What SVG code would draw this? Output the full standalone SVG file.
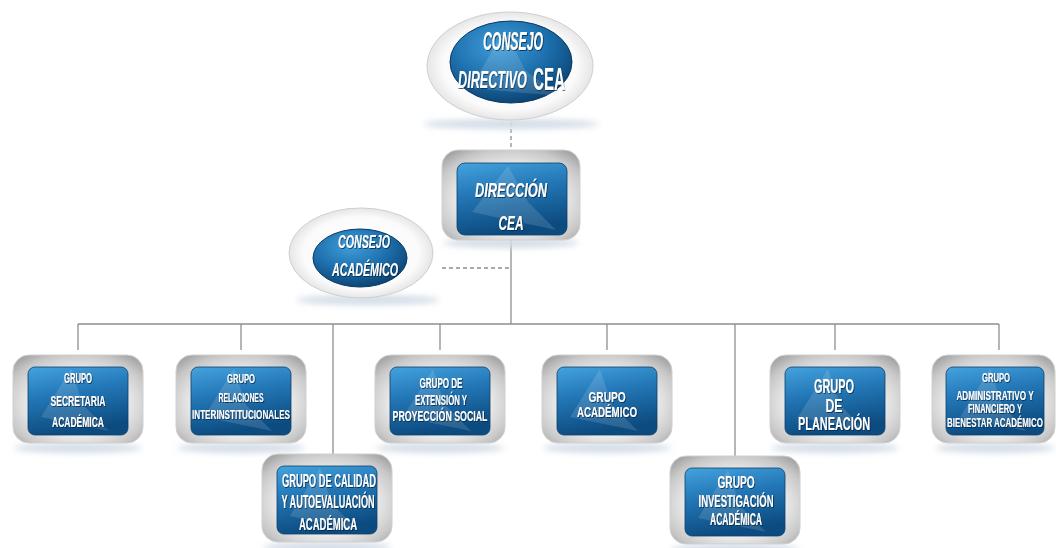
<svg xmlns="http://www.w3.org/2000/svg" xmlns:xlink="http://www.w3.org/1999/xlink" width="1056" height="548" viewBox="0 0 1056 548">
<style>
.t{font-family:"Liberation Sans",Arial,sans-serif;font-weight:bold;fill:#ffffff;text-anchor:middle;filter:url(#tsh)}
.ti{font-style:italic}
.conn{stroke:#8e8e8e;stroke-width:1.3;fill:none}
.dash{stroke-dasharray:4 3}
.frame{fill:url(#silver);stroke:#d0d0d0;stroke-width:1}
.box{fill:url(#blue);stroke:#0c406a;stroke-width:0.8}
.hl{fill:#ffffff;opacity:0.13}
.shadow{fill:#d3dce6;filter:url(#blur)}
</style>
<defs>
<linearGradient id="blue" x1="0" y1="0" x2="0.25" y2="1">
<stop offset="0" stop-color="#44a3de"/>
<stop offset="0.45" stop-color="#2377b6"/>
<stop offset="1" stop-color="#0c4b80"/>
</linearGradient>
<radialGradient id="blueE" cx="0.4" cy="0.3" r="0.75">
<stop offset="0" stop-color="#3f9edb"/>
<stop offset="0.55" stop-color="#1c6eab"/>
<stop offset="1" stop-color="#0a3f6d"/>
</radialGradient>
<radialGradient id="silver" cx="0.5" cy="0.55" r="0.72">
<stop offset="0" stop-color="#ffffff"/>
<stop offset="0.5" stop-color="#eeeeee"/>
<stop offset="0.78" stop-color="#c8c8c8"/>
<stop offset="1" stop-color="#959595"/>
</radialGradient>
<radialGradient id="whiteE" cx="0.5" cy="0.5" r="0.5">
<stop offset="0" stop-color="#ffffff"/>
<stop offset="0.8" stop-color="#fbfbfb"/>
<stop offset="1" stop-color="#e6e6e6"/>
</radialGradient>
<filter id="blur" x="-20%" y="-200%" width="140%" height="500%"><feGaussianBlur stdDeviation="3"/></filter>
<filter id="tsh" x="-5%" y="-30%" width="110%" height="160%"><feDropShadow dx="0.8" dy="1" stdDeviation="0.6" flood-color="#05233d" flood-opacity="0.75"/></filter>
<g id="grp">
<ellipse class="shadow" cx="65" cy="93" rx="64" ry="5"/>
<rect class="frame" x="0" y="0" width="130" height="88" rx="16"/>
<rect class="box" x="15" y="12" width="100" height="68" rx="7"/>
<path class="hl" d="M58 14 L28 62 L96 76 L70 50 Z"/>
</g>
</defs>

<g id="connectors">
<line class="conn dash" x1="511" y1="122" x2="511" y2="150"/>
<line class="conn dash" x1="442" y1="268" x2="511" y2="268"/>
<line class="conn" x1="511" y1="240" x2="511" y2="324"/>
<line class="conn" x1="78" y1="324" x2="999" y2="324"/>
<line class="conn" x1="78" y1="324" x2="78" y2="350"/>
<line class="conn" x1="241" y1="324" x2="241" y2="350"/>
<line class="conn" x1="333" y1="324" x2="333" y2="455"/>
<line class="conn" x1="440" y1="324" x2="440" y2="350"/>
<line class="conn" x1="607" y1="324" x2="607" y2="350"/>
<line class="conn" x1="735" y1="324" x2="735" y2="457"/>
<line class="conn" x1="835" y1="324" x2="835" y2="350"/>
<line class="conn" x1="999" y1="324" x2="999" y2="350"/>
</g>

<g id="consejo-directivo">
<ellipse class="shadow" cx="511" cy="124" rx="88" ry="5"/>
<ellipse cx="510" cy="66" rx="83" ry="54" fill="url(#whiteE)" stroke="#cfcfcf" stroke-width="1"/>
<ellipse cx="511" cy="62" rx="61" ry="41" fill="url(#blueE)" stroke="#083a63" stroke-width="1"/>
<path class="hl" d="M505 30 L470 88 L560 96 L525 70 Z"/>
<text class="t ti" x="513" y="50" font-size="26" textLength="60" lengthAdjust="spacingAndGlyphs">CONSEJO</text>
<text class="t ti" transform="translate(458,88) scale(0.56,1)" x="0" y="0" font-size="23" textLength="123" lengthAdjust="spacingAndGlyphs" style="text-anchor:start">DIRECTIVO</text>
<text class="t" transform="translate(533,90) scale(0.5,1)" x="0" y="0" font-size="31" textLength="64" lengthAdjust="spacingAndGlyphs" style="text-anchor:start">CEA</text>
</g>

<g id="direccion-cea">
<ellipse class="shadow" cx="511" cy="243" rx="68" ry="5"/>
<rect class="frame" x="442" y="150" width="138" height="90" rx="16"/>
<rect class="box" x="457" y="163" width="110" height="72" rx="8"/>
<path class="hl" d="M508 166 L472 212 L556 230 L528 202 Z"/>
<text class="t ti" x="511" y="197" font-size="20" textLength="72" lengthAdjust="spacingAndGlyphs">DIRECCIÓN</text>
<text class="t ti" x="511" y="230" font-size="20" textLength="25" lengthAdjust="spacingAndGlyphs">CEA</text>
</g>

<g id="consejo-academico">
<ellipse class="shadow" cx="368" cy="300" rx="72" ry="5"/>
<ellipse cx="361" cy="253" rx="72" ry="45" fill="url(#whiteE)" stroke="#cfcfcf" stroke-width="1"/>
<ellipse cx="360" cy="258" rx="47" ry="29" fill="url(#blueE)" stroke="#083a63" stroke-width="1"/>
<text class="t ti" x="364" y="248" font-size="19" textLength="52" lengthAdjust="spacingAndGlyphs">CONSEJO</text>
<text class="t ti" x="365" y="276" font-size="19" textLength="66" lengthAdjust="spacingAndGlyphs">ACADÉMICO</text>
</g>

<g id="grupo-secretaria" transform="translate(13,355)">
<use xlink:href="#grp" href="#grp"/>
<text class="t" x="65" y="28" font-size="14" textLength="28" lengthAdjust="spacingAndGlyphs">GRUPO</text>
<text class="t" x="65" y="51" font-size="15" textLength="55" lengthAdjust="spacingAndGlyphs">SECRETARIA</text>
<text class="t" x="65" y="72" font-size="15" textLength="52" lengthAdjust="spacingAndGlyphs">ACADÉMICA</text>
</g>

<g id="grupo-relaciones" transform="translate(176,355)">
<use xlink:href="#grp" href="#grp"/>
<text class="t" x="65" y="28" font-size="13" textLength="28" lengthAdjust="spacingAndGlyphs">GRUPO</text>
<text class="t" x="65" y="47" font-size="13" textLength="45" lengthAdjust="spacingAndGlyphs">RELACIONES</text>
<text class="t" x="65" y="64" font-size="13" textLength="98" lengthAdjust="spacingAndGlyphs">INTERINSTITUCIONALES</text>
</g>

<g id="grupo-calidad" transform="translate(262,454)">
<use xlink:href="#grp" href="#grp"/>
<text class="t" x="67" y="33" font-size="18" textLength="94" lengthAdjust="spacingAndGlyphs">GRUPO DE CALIDAD</text>
<text class="t" x="66" y="54" font-size="18" textLength="93" lengthAdjust="spacingAndGlyphs">Y AUTOEVALUACIÓN</text>
<text class="t" x="66" y="76" font-size="17" textLength="58" lengthAdjust="spacingAndGlyphs">ACADÉMICA</text>
</g>

<g id="grupo-extension" transform="translate(375,355)">
<use xlink:href="#grp" href="#grp"/>
<text class="t" x="66" y="33" font-size="14" textLength="43" lengthAdjust="spacingAndGlyphs">GRUPO DE</text>
<text class="t" x="66" y="50" font-size="14" textLength="52" lengthAdjust="spacingAndGlyphs">EXTENSIÓN Y</text>
<text class="t" x="65" y="66" font-size="14" textLength="95" lengthAdjust="spacingAndGlyphs">PROYECCIÓN SOCIAL</text>
</g>

<g id="grupo-academico" transform="translate(542,355)">
<use xlink:href="#grp" href="#grp"/>
<text class="t" x="65" y="47" font-size="15" textLength="37" lengthAdjust="spacingAndGlyphs">GRUPO</text>
<text class="t" x="65" y="62" font-size="15" textLength="60" lengthAdjust="spacingAndGlyphs">ACADÉMICO</text>
</g>

<g id="grupo-investigacion" transform="translate(670,456)">
<use xlink:href="#grp" href="#grp"/>
<text class="t" x="66" y="32" font-size="16" textLength="37" lengthAdjust="spacingAndGlyphs">GRUPO</text>
<text class="t" x="66" y="51" font-size="16" textLength="75" lengthAdjust="spacingAndGlyphs">INVESTIGACIÓN</text>
<text class="t" x="66" y="69" font-size="16" textLength="52" lengthAdjust="spacingAndGlyphs">ACADÉMICA</text>
</g>

<g id="grupo-planeacion" transform="translate(770,355)">
<use xlink:href="#grp" href="#grp"/>
<text class="t" x="64" y="38" font-size="20" textLength="40" lengthAdjust="spacingAndGlyphs">GRUPO</text>
<text class="t" x="64" y="57" font-size="19" textLength="17" lengthAdjust="spacingAndGlyphs">DE</text>
<text class="t" x="64" y="75" font-size="18" textLength="72" lengthAdjust="spacingAndGlyphs">PLANEACIÓN</text>
</g>

<g id="grupo-administrativo" transform="translate(932,355)">
<ellipse class="shadow" cx="63" cy="93" rx="60" ry="5"/>
<rect class="frame" x="0" y="0" width="123" height="88" rx="16"/>
<rect class="box" x="14" y="12" width="98" height="68" rx="7"/>
<path class="hl" d="M58 14 L28 62 L94 76 L70 50 Z"/>
<text class="t" x="64" y="27" font-size="12" textLength="28" lengthAdjust="spacingAndGlyphs">GRUPO</text>
<text class="t" transform="translate(63,45) scale(0.68,1)" x="0" y="0" font-size="12">ADMINISTRATIVO Y</text>
<text class="t" x="63" y="58" font-size="12" textLength="54" lengthAdjust="spacingAndGlyphs">FINANCIERO Y</text>
<text class="t" transform="translate(63,72) scale(0.66,1)" x="0" y="0" font-size="12">BIENESTAR ACADÉMICO</text>
</g>
</svg>
